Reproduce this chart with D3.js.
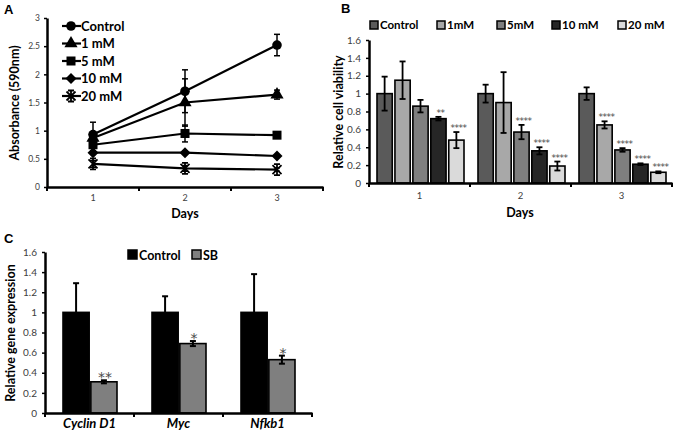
<!DOCTYPE html>
<html><head><meta charset="utf-8">
<script src="https://cdn.jsdelivr.net/npm/d3@7"></script>
<style>
body{margin:0;background:#fff;}
svg{font-family:Lato,"Open Sans",sans-serif;}
</style></head>
<body><svg id="c" width="675" height="438"></svg>
<script>
// ---------- Panel A data ----------
const daysA = ["1","2","3"];
const seriesA = ["Control","1 mM","5 mM","10 mM","20 mM"];
const valA_control = [0.93, 1.70, 2.52];
const valA_1mM     = [0.87, 1.50, 1.64];
const valA_5mM     = [0.75, 0.95, 0.92];
const valA_10mM    = [0.61, 0.61, 0.55];
const valA_20mM    = [0.41, 0.33, 0.31];
const errA_control = [0.22, 0.38, 0.19];
const errA_1mM     = [0.05, 0.42, 0.08];
const errA_5mM     = [0.05, 0.15, 0.04];
const errA_10mM    = [0.03, 0.03, 0.02];
const errA_20mM    = [0.06, 0.05, 0.03];
const ticksA = [0,0.5,1,1.5,2,2.5,3];

// ---------- Panel B data ----------
const daysB = ["1","2","3"];
const seriesB = ["Control","1mM","5mM","10 mM","20 mM"];
const valB_control = [1.00, 1.00, 1.00];
const valB_1mM     = [1.15, 0.90, 0.65];
const valB_5mM     = [0.86, 0.57, 0.37];
const valB_10mM    = [0.72, 0.36, 0.21];
const valB_20mM    = [0.48, 0.19, 0.12];
const errB_control = [0.19, 0.10, 0.07];
const errB_1mM     = [0.21, 0.34, 0.04];
const errB_5mM     = [0.07, 0.08, 0.02];
const errB_10mM    = [0.02, 0.04, 0.01];
const errB_20mM    = [0.09, 0.05, 0.01];
const sigB_control = ["","",""];
const sigB_1mM     = ["","","****"];
const sigB_5mM     = ["","****","****"];
const sigB_10mM    = ["**","****","****"];
const sigB_20mM    = ["****","****","****"];
const ticksB = [0,0.2,0.4,0.6,0.8,1,1.2,1.4,1.6];

// ---------- Panel C data ----------
const genesC = ["Cyclin D1","Myc","Nfkb1"];
const seriesC = ["Control","SB"];
const valC_control = [1.0, 1.0, 1.0];
const valC_SB      = [0.31, 0.69, 0.53];
const errC_control = [0.29, 0.16, 0.38];
const errC_SB      = [0.015, 0.025, 0.04];
const sigC_SB      = ["**","*","*"];
const ticksC = [0,0.2,0.4,0.6,0.8,1,1.2,1.4,1.6];

const svg = d3.select("#c");
const fmt = d => String(+d.toFixed(1));

function styleAxis(g, fs){
  g.select(".domain").attr("stroke","#000").attr("stroke-width",2.5);
  g.selectAll(".tick line").attr("stroke","#000").attr("stroke-width",1.5);
  g.selectAll(".tick text").attr("fill","#404040").attr("font-size",fs).attr("font-family","Lato, sans-serif");
}
function boundaryTicks(sel, x, y0){
  const bounds = x.domain().map(d => x(d)).concat([x.range()[1]]);
  sel.selectAll(null).data(bounds).enter().append("line")
    .attr("x1",d=>d).attr("x2",d=>d).attr("y1",y0).attr("y2",y0+4)
    .attr("stroke","#000").attr("stroke-width",2);
}
function errBar(g, cx, y, v, e, cap, sw){
  g.append("line").attr("x1",cx).attr("x2",cx).attr("y1",y(v+e)).attr("y2",y(v-e)).attr("stroke","#000").attr("stroke-width",sw);
  [v+e, v-e].forEach(t => g.append("line").attr("x1",cx-cap).attr("x2",cx+cap).attr("y1",y(t)).attr("y2",y(t)).attr("stroke","#000").attr("stroke-width",sw));
}

// ================= Panel A =================
{
  const x = d3.scaleBand().domain(daysA).range([47,323]);
  const y = d3.scaleLinear().domain([0,3]).range([187,18]);
  const g = svg.append("g");
  const vals = [valA_control,valA_1mM,valA_5mM,valA_10mM,valA_20mM];
  const errs = [errA_control,errA_1mM,errA_5mM,errA_10mM,errA_20mM];
  const syms = ["circle","triangle","square","diamond","star"];

  function marker(sel, type, cx, cy){
    if(type==="circle") sel.append("circle").attr("cx",cx).attr("cy",cy).attr("r",4.8).attr("fill","#000");
    else if(type==="triangle") sel.append("path").attr("d",d3.symbol(d3.symbolTriangle,75)()).attr("transform",`translate(${cx},${cy})`).attr("fill","#000");
    else if(type==="square") sel.append("rect").attr("x",cx-4.5).attr("y",cy-4.5).attr("width",9).attr("height",9).attr("fill","#000");
    else if(type==="diamond") sel.append("path").attr("d",`M${cx},${cy-5.5}L${cx+5.5},${cy}L${cx},${cy+5.5}L${cx-5.5},${cy}Z`).attr("fill","#000");
    else {
      const r=4.5;
      sel.append("path").attr("d",`M${cx-r},${cy-r}L${cx+r},${cy+r}M${cx-r},${cy+r}L${cx+r},${cy-r}M${cx},${cy-r-1}L${cx},${cy+r+1}M${cx-3},${cy-r-1}L${cx+3},${cy-r-1}M${cx-3},${cy+r+1}L${cx+3},${cy+r+1}`)
        .attr("stroke","#000").attr("stroke-width",1.8).attr("fill","none");
    }
  }

  const line = d3.line().x((d,i)=>x(daysA[i])+x.bandwidth()/2).y(d=>y(d));
  vals.forEach((v,si)=>{
    g.append("path").attr("d",line(v)).attr("fill","none").attr("stroke","#000").attr("stroke-width",2.2);
  });
  vals.forEach((v,si)=>{
    v.forEach((d,i)=>{
      const cx = x(daysA[i])+x.bandwidth()/2;
      errBar(g,cx,y,d,errs[si][i],3,1.5);
      marker(g,syms[si],cx,y(d));
    });
  });

  const ya = g.append("g").attr("transform","translate(47,0)").call(d3.axisLeft(y).tickValues(ticksA).tickFormat(d=>String(d)).tickSize(3).tickSizeOuter(0).tickPadding(4));
  styleAxis(ya, 8.5);
  const xa = g.append("g").attr("transform","translate(0,187)").call(d3.axisBottom(x).tickSize(0).tickSizeOuter(0).tickPadding(8));
  styleAxis(xa, 9);
  boundaryTicks(g, x, 187);

  g.append("text").attr("x",185).attr("y",218).attr("text-anchor","middle").attr("font-weight","bold").attr("font-size",12.5).text("Days");
  g.append("text").attr("transform","translate(19,103) rotate(-90)").attr("text-anchor","middle").attr("font-weight","bold").attr("font-size",12.5).text("Absorbance (590nm)");
  g.append("text").attr("x",4).attr("y",14).attr("font-family","Liberation Sans, Arial").attr("font-weight","bold").attr("font-size",13).text("A");

  // legend
  const leg = g.append("g");
  seriesA.forEach((s,i)=>{
    const ly = 26 + i*17.5;
    leg.append("line").attr("x1",62).attr("x2",81).attr("y1",ly).attr("y2",ly).attr("stroke","#000").attr("stroke-width",2.2);
    marker(leg,syms[i],71,ly);
    leg.append("text").attr("x",81).attr("y",ly+4.5).attr("font-weight","bold").attr("font-size",13).text(s);
  });
}

// ================= Panel B =================
{
  const x0 = d3.scaleBand().domain(daysB).range([369,672]);
  const x1 = d3.scaleBand().domain(seriesB).range([8, x0.bandwidth()-6]).paddingInner(0.15);
  const y = d3.scaleLinear().domain([0,1.6]).range([183,40]);
  const g = svg.append("g");
  const vals = [valB_control,valB_1mM,valB_5mM,valB_10mM,valB_20mM];
  const errs = [errB_control,errB_1mM,errB_5mM,errB_10mM,errB_20mM];
  const sigs = [sigB_control,sigB_1mM,sigB_5mM,sigB_10mM,sigB_20mM];
  const colors = ["#5a5a5a","#a8a8a8","#7f7f7f","#262626","#dadada"];

  const ya = g.append("g").attr("transform","translate(369,0)").call(d3.axisLeft(y).tickValues(ticksB).tickFormat(fmt).tickSize(3).tickSizeOuter(0).tickPadding(5));
  styleAxis(ya, 10);

  vals.forEach((v,si)=>{
    v.forEach((d,i)=>{
      const bx = x0(daysB[i]) + x1(seriesB[si]);
      g.append("rect").attr("x",bx).attr("y",y(d)).attr("width",x1.bandwidth()).attr("height",y(0)-y(d))
        .attr("fill",colors[si]).attr("stroke","#000").attr("stroke-width",1.6);
      const cx = bx + x1.bandwidth()/2;
      errBar(g,cx,y,d,errs[si][i],3,1.8);
      if(sigs[si][i]) g.append("text").attr("x",cx+2).attr("y",y(d+errs[si][i])-1).attr("text-anchor","middle")
        .attr("font-size",9).attr("fill","#4a4a4a").attr("font-family","DejaVu Sans").attr("letter-spacing",-0.5).text(sigs[si][i]);
    });
  });

  const xa = g.append("g").attr("transform","translate(0,183)").call(d3.axisBottom(x0).tickSize(0).tickSizeOuter(0).tickPadding(9));
  styleAxis(xa, 9.5);
  boundaryTicks(g, x0, 183);

  g.append("text").attr("x",520).attr("y",217).attr("text-anchor","middle").attr("font-weight","bold").attr("font-size",12.5).text("Days");
  g.append("text").attr("transform","translate(343,112) rotate(-90)").attr("text-anchor","middle").attr("font-weight","bold").attr("font-size",12.5).text("Relative cell viability");
  g.append("text").attr("x",341).attr("y",13).attr("font-family","Liberation Sans, Arial").attr("font-weight","bold").attr("font-size",13).text("B");

  const legX = [370,437,497,552,618];
  seriesB.forEach((s,i)=>{
    g.append("rect").attr("x",legX[i]).attr("y",21).attr("width",8).attr("height",8).attr("fill",colors[i]).attr("stroke","#000").attr("stroke-width",1.5);
    g.append("text").attr("x",legX[i]+10).attr("y",29).attr("font-weight","bold").attr("font-size",11.5).text(s);
  });
}

// ================= Panel C =================
{
  const x0 = d3.scaleBand().domain(genesC).range([45,312]);
  const x1 = d3.scaleBand().domain(seriesC).range([18, x0.bandwidth()-17]).paddingInner(0.06);
  const y = d3.scaleLinear().domain([0,1.6]).range([413,252]);
  const g = svg.append("g");
  const vals = [valC_control,valC_SB];
  const errs = [errC_control,errC_SB];
  const colors = ["#000000","#7f7f7f"];

  const ya = g.append("g").attr("transform","translate(45,0)").call(d3.axisLeft(y).tickValues(ticksC).tickFormat(fmt).tickSize(3).tickSizeOuter(0).tickPadding(5));
  styleAxis(ya, 10);

  vals.forEach((v,si)=>{
    v.forEach((d,i)=>{
      const bx = x0(genesC[i]) + x1(seriesC[si]);
      g.append("rect").attr("x",bx).attr("y",y(d)).attr("width",x1.bandwidth()).attr("height",y(0)-y(d))
        .attr("fill",colors[si]).attr("stroke","#000").attr("stroke-width",1.6);
      const cx = bx + x1.bandwidth()/2;
      errBar(g,cx,y,d,errs[si][i],3,2);
      if(si===1) g.append("text").attr("x",cx+1).attr("y",y(d+errs[si][i])+2).attr("text-anchor","middle")
        .attr("font-size",14).attr("fill","#4a4a4a").attr("font-family","DejaVu Sans").text(sigC_SB[i]);
    });
  });

  const xa = g.append("g").attr("transform","translate(0,413)").call(d3.axisBottom(x0).tickSize(0).tickSizeOuter(0).tickPadding(6));
  styleAxis(xa, 13);
  xa.selectAll(".tick text").attr("fill","#000").attr("font-weight","bold").attr("font-style","italic");
  boundaryTicks(g, x0, 413);

  g.append("text").attr("transform","translate(15,333) rotate(-90)").attr("text-anchor","middle").attr("font-weight","bold").attr("font-size",12.5).text("Relative gene expression");
  g.append("text").attr("x",4).attr("y",243).attr("font-family","Liberation Sans, Arial").attr("font-weight","bold").attr("font-size",13).text("C");

  const legX = [128,192];
  seriesC.forEach((s,i)=>{
    g.append("rect").attr("x",legX[i]).attr("y",250).attr("width",9).attr("height",9).attr("fill",colors[i]).attr("stroke","#000").attr("stroke-width",1.5);
    g.append("text").attr("x",legX[i]+11).attr("y",259.5).attr("font-weight","bold").attr("font-size",12.5).text(s);
  });
}
</script></body></html>
